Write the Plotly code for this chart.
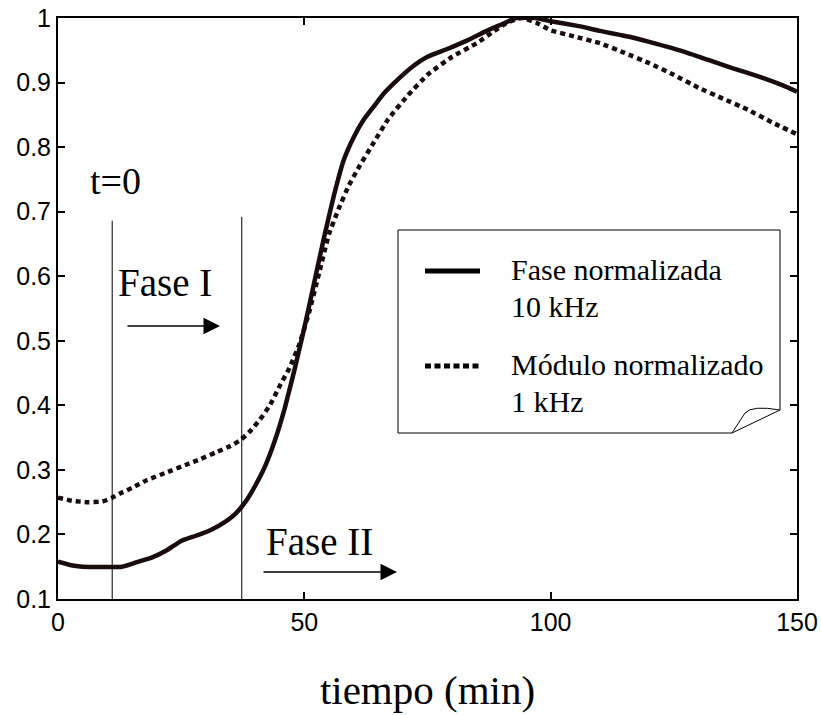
import plotly.graph_objects as go

# ---- data ----
fase_t = [0, 3, 5, 13, 16, 19, 22, 25, 28, 31, 34, 36, 38, 40, 42, 44, 46, 48, 50, 52, 54, 56,
          58, 60, 62, 64, 66, 69, 72, 75, 79, 83, 87, 90, 93, 97, 100, 106, 110, 116, 120, 127,
          132, 137, 142, 147, 150]
fase_v = [0.158, 0.152, 0.150, 0.150, 0.157, 0.164, 0.175, 0.190, 0.198, 0.207, 0.220, 0.232,
          0.250, 0.275, 0.305, 0.345, 0.395, 0.455, 0.520, 0.590, 0.660, 0.725, 0.780, 0.815,
          0.842, 0.862, 0.882, 0.905, 0.925, 0.940, 0.952, 0.965, 0.980, 0.990, 1.000, 1.000,
          0.995, 0.987, 0.980, 0.971, 0.963, 0.948, 0.935, 0.922, 0.910, 0.896, 0.886]

mod_t = [0, 3, 6, 9, 11, 13, 15, 18, 22, 26, 29, 32, 35, 37, 39, 41, 43, 45, 47, 49, 51, 53,
         55, 57, 59, 61, 64, 67, 71, 75, 80, 85, 88, 91, 94, 97, 100, 105, 110, 115, 120, 125,
         130, 135, 140, 145, 150]
mod_v = [0.257, 0.252, 0.250, 0.251, 0.257, 0.265, 0.272, 0.284, 0.296, 0.308, 0.317, 0.327,
         0.337, 0.346, 0.360, 0.378, 0.400, 0.430, 0.458, 0.495, 0.545, 0.605, 0.665, 0.705,
         0.740, 0.768, 0.806, 0.843, 0.880, 0.912, 0.940, 0.961, 0.977, 0.992, 1.000, 0.993,
         0.981, 0.971, 0.961, 0.946, 0.930, 0.912, 0.892, 0.875, 0.858, 0.838, 0.820]

x_ticks = [0, 50, 100, 150]
x_tick_labels = ["0", "50", "100", "150"]
y_ticks = [0.1, 0.2, 0.3, 0.4, 0.5, 0.6, 0.7, 0.8, 0.9, 1.0]
y_tick_labels = ["0.1", "0.2", "0.3", "0.4", "0.5", "0.6", "0.7", "0.8", "0.9", "1"]

marker_times = [11, 37.3]          # t=0 and end of Fase I
marker_tops = [0.686, 0.692]

legend_names = ["Fase normalizada", "10 kHz", "Módulo normalizado", "1 kHz"]

INK = "#1a0c0c"
SERIF = "Liberation Serif, Times New Roman, serif"
SANS = "Liberation Sans, Arial, sans-serif"

fig = go.Figure()
fig.add_trace(go.Scatter(x=fase_t, y=fase_v, mode="lines", showlegend=False,
                         line=dict(color=INK, width=4.5, shape="spline", smoothing=0.4)))
fig.add_trace(go.Scatter(x=mod_t, y=mod_v, mode="lines", showlegend=False,
                         line=dict(color=INK, width=4.5, dash="5px,4px",
                                   shape="spline", smoothing=0.4)))

shapes = []
for t, top in zip(marker_times, marker_tops):
    shapes.append(dict(type="line", xref="x", yref="y", x0=t, x1=t, y0=0.1, y1=top,
                       line=dict(color="black", width=1)))

# legend box with folded corner (pixel -> data helpers)
def dx(px):
    return (px - 58) / 739 * 150

def dy(py):
    return 0.1 + (599 - py) / 581 * 0.9

L, R, T, B = 398, 780, 230, 433
fx, fy = 732, 410
path = (f"M {dx(L)},{dy(T)} L {dx(R)},{dy(T)} L {dx(R)},{dy(fy)} "
        f"L {dx(fx)},{dy(B)} L {dx(L)},{dy(B)} Z")
shapes.append(dict(type="path", xref="x", yref="y", path=path,
                   line=dict(color="black", width=1), fillcolor="white", layer="above"))
curl = (f"M {dx(fx)},{dy(B)} L {dx(745)},{dy(413)} "
        f"Q {dx(752)},{dy(405)} {dx(R)},{dy(fy)}")
shapes.append(dict(type="path", xref="x", yref="y", path=curl,
                   line=dict(color="black", width=1), layer="above"))
shapes.append(dict(type="line", xref="x", yref="y", x0=dx(425), x1=dx(480),
                   y0=dy(271), y1=dy(271), line=dict(color="black", width=5), layer="above"))
shapes.append(dict(type="line", xref="x", yref="y", x0=dx(425), x1=dx(480),
                   y0=dy(366), y1=dy(366),
                   line=dict(color="black", width=5, dash="6px,3.5px"), layer="above"))

annotations = []
for name, py in zip(legend_names, [269, 306, 364, 401]):
    annotations.append(dict(x=dx(509), y=dy(py), xref="x", yref="y", text=name,
                            showarrow=False, xanchor="left", yanchor="middle",
                            font=dict(family=SERIF, size=30, color="black")))

annotations.append(dict(x=dx(115), y=dy(181), xref="x", yref="y", text="t=0",
                        showarrow=False, font=dict(family=SERIF, size=38, color="black")))
annotations.append(dict(x=dx(165), y=dy(282), xref="x", yref="y", text="Fase I",
                        showarrow=False, font=dict(family=SERIF, size=39, color="black")))
annotations.append(dict(x=dx(319), y=dy(541), xref="x", yref="y", text="Fase II",
                        showarrow=False, font=dict(family=SERIF, size=39, color="black")))
# arrows
for (x0, x1, py) in [(126, 220, 326), (262, 397, 572)]:
    annotations.append(dict(x=dx(x1), y=dy(py), ax=dx(x0), ay=dy(py), xref="x", yref="y",
                            axref="x", ayref="y", text="", showarrow=True, arrowhead=2,
                            arrowsize=2.2, arrowwidth=1.5, arrowcolor="black"))

axis_common = dict(showline=True, linewidth=2, linecolor="black", mirror="allticks",
                   ticks="inside", ticklen=7, tickwidth=1.5, tickcolor="black",
                   showgrid=False, zeroline=False, automargin=False,
                   tickfont=dict(family=SANS, size=25, color="black"))

fig.update_layout(
    width=821, height=715,
    margin=dict(l=58, r=24, t=18, b=116),
    paper_bgcolor="white", plot_bgcolor="white",
    xaxis=dict(range=[0, 150], tickvals=x_ticks, ticktext=x_tick_labels,
               title=dict(text="tiempo (min)", standoff=40,
                          font=dict(family=SERIF, size=41, color="black")),
               **axis_common),
    yaxis=dict(range=[0.1, 1.0], tickvals=y_ticks, ticktext=y_tick_labels, **axis_common),
    shapes=shapes, annotations=annotations,
)

fig.write_html("out.html")
